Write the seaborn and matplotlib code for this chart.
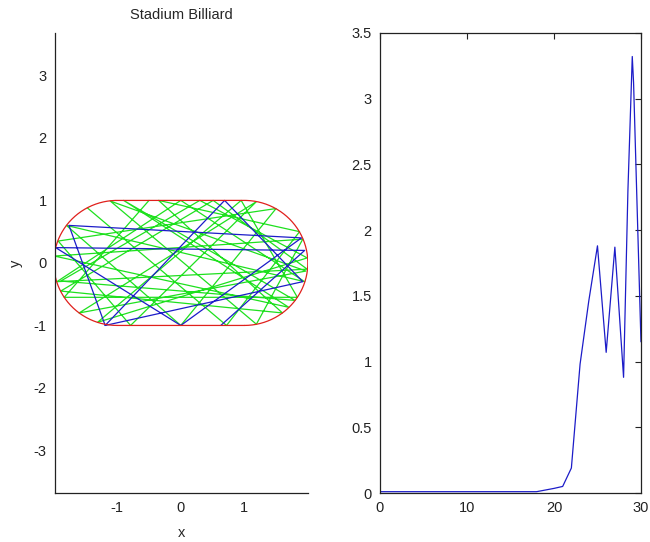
import matplotlib
matplotlib.use('Agg')
import numpy as np
import pandas as pd
import matplotlib.pyplot as plt
import seaborn as sns

# stadium shape: two half circles of radius 1 joined by flat sides from -1 to 1
radius = 1.0
half_len = 1.0

# bounce points of the green trajectory
green_x = [-1.47, 0.72, 1.87, -0.35, 1.60, -1.89, 0.51, 1.99, -1.95, 0.00, 1.95, -1.80,
           0.00, 1.50, -1.93, -0.79, 1.19, -1.60, 1.97, -1.11, 1.19, 1.92, -1.99, 1.70,
           -0.90, 1.80, -1.89, 0.30, 1.99, -1.31, 0.95, 1.835, -1.835, -0.50]
green_y = [0.88, -1.00, 0.50, 1.00, -0.80, -0.45, 1.00, -0.10, -0.30, 1.00, -0.30, 0.60,
           -1.00, 0.87, 0.35, -1.00, 0.98, -0.80, -0.13, 0.99, -0.98, 0.38, 0.11, -0.71,
           1.00, -0.60, -0.29, 1.00, 0.08, -0.95, 1.00, -0.55, -0.55, 1.00]

# bounce points of the blue trajectory
blue_x = [0.63, 1.95, -1.97, 0.00, 1.90, -1.76, -1.19, 0.69, 1.92, -1.19]
blue_y = [-1.00, 0.20, 0.245, -1.00, 0.40, 0.60, -1.00, 1.00, -0.30, -1.00]

# right panel series
t_vals = [0, 5, 10, 15, 18, 20, 21, 22, 23, 24, 25, 26, 27, 28, 28.5, 29, 29.15, 30]
v_vals = [0.01, 0.01, 0.01, 0.01, 0.01, 0.035, 0.05, 0.19, 0.98, 1.46, 1.88, 1.07,
          1.87, 0.88, 2.30, 3.32, 3.12, 1.15]

sns.set_style('white')
plt.rcParams['font.family'] = ['Liberation Sans', 'DejaVu Sans']
plt.rcParams['font.size'] = 10.5
plt.rcParams['axes.unicode_minus'] = False

fig = plt.figure(figsize=(6.5, 5.42), dpi=100)
ax1 = fig.add_axes([0.0846, 0.0904, 0.389, 0.849])
ax2 = fig.add_axes([0.5846, 0.0904, 0.4015, 0.849])

# stadium outline
th = np.linspace(-np.pi / 2, np.pi / 2, 100)
bx = np.concatenate([half_len + radius * np.cos(th), -half_len - radius * np.cos(th), [half_len]])
by = np.concatenate([radius * np.sin(th), radius * np.sin(th[::-1]), [-radius]])

sns.lineplot(x=green_x, y=green_y, sort=False, estimator=None, color='#1ee01e', lw=0.9, ax=ax1)
sns.lineplot(x=blue_x, y=blue_y, sort=False, estimator=None, color='#1c1cc8', lw=0.9, ax=ax1)
sns.lineplot(x=bx, y=by, sort=False, estimator=None, color='#e0201c', lw=0.9, ax=ax1)

ax1.set_xlim(-1.98, 2.0)
ax1.set_ylim(-3.68, 3.68)
ax1.set_xticks([-1, 0, 1])
ax1.set_yticks([-3, -2, -1, 0, 1, 2, 3])
ax1.set_title('Stadium Billiard', fontsize=10.5, pad=10)
ax1.set_xlabel('x', labelpad=8)
ax1.set_ylabel('y', labelpad=8)
sns.despine(ax=ax1)
for s in ['left', 'bottom']:
    ax1.spines[s].set_color('#222222')
    ax1.spines[s].set_linewidth(0.9)
ax1.tick_params(direction='in', length=4, width=0.8, colors='#222222', pad=6)

df = pd.DataFrame({'t': t_vals, 'v': v_vals})
sns.lineplot(data=df, x='t', y='v', color='#1c1cc8', lw=0.9, ax=ax2)
ax2.set_xlim(0, 30)
ax2.set_ylim(0, 3.5)
ax2.set_xticks([0, 10, 20, 30])
ax2.set_yticks([0, 0.5, 1, 1.5, 2, 2.5, 3, 3.5])
ax2.set_yticklabels(['0', '0.5', '1', '1.5', '2', '2.5', '3', '3.5'])
ax2.set_xlabel('')
ax2.set_ylabel('')
for s in ax2.spines.values():
    s.set_color('#222222')
    s.set_linewidth(0.9)
ax2.tick_params(direction='in', length=4, width=0.8, colors='#222222', pad=6,
                top=True, right=True)

fig.savefig('out.png', dpi=100)
